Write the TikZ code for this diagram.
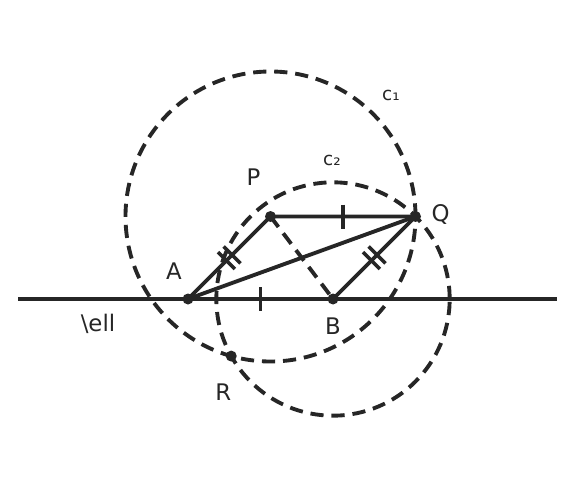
\documentclass[tikz,border=0pt]{standalone}
\usepackage{fontspec}
\setmainfont{DejaVu Sans}
\usetikzlibrary{calc}
\definecolor{ink}{HTML}{262626}
\begin{document}
\begin{tikzpicture}[
        line width=2.2pt, draw=ink, ink,
        circ/.style={dash pattern=on 7.5pt off 4.5pt},
        tick/.style={line width=2pt},
        dot/.style={fill=ink, draw=none},
        lbl/.style={font=\fontsize{13}{15}\selectfont},
        clbl/.style={font=\fontsize{10.5}{12}\selectfont}
    ]
        \useasboundingbox (0,0) rectangle (11.52,9.78);

        % points
        \coordinate (A) at (3.76,3.8);
        \coordinate (B) at ($(A)+(2.9,0)$);
        \coordinate (P) at ($(A)+(1.65,1.65)$);
        \coordinate (Q) at ($(P)+(2.9,0)$);
        \coordinate (F) at ($(P)!(Q)!(B)$);
        \coordinate (R) at ($(Q)!2!(F)$);
        \coordinate (ell1) at (0.36,3.8);
        \coordinate (ell2) at (11.14,3.8);

        % line and circles
        \draw (ell1) -- (ell2);
        \draw[circ] let \p1=($(Q)-(P)$) in (P) circle ({veclen(\x1,\y1)});
        \draw[circ] let \p1=($(Q)-(B)$) in (B) circle ({veclen(\x1,\y1)});

        % segments
        \draw (A) -- (P) -- (Q) -- (B);
        \draw (A) -- (Q);
        \draw[circ] (P) -- (B);

        % ticks
        \coordinate (mAB) at ($(A)!0.5!(B)$);
        \coordinate (mPQ) at ($(P)!0.5!(Q)$);
        \draw[tick] ($(mAB)!0.24cm!90:(B)$) -- ($(mAB)!0.24cm!-90:(B)$);
        \draw[tick] ($(mPQ)!0.24cm!90:(Q)$) -- ($(mPQ)!0.24cm!-90:(Q)$);
        \foreach \s/\e in {A/P, B/Q} {
            \coordinate (m) at ($(\s)!0.5!(\e)$);
            \coordinate (m1) at ($(m)!0.08cm!(\e)$);
            \coordinate (m2) at ($(m)!0.08cm!(\s)$);
            \draw[tick] ($(m1)!0.24cm!90:(\e)$) -- ($(m1)!0.24cm!-90:(\e)$);
            \draw[tick] ($(m2)!0.24cm!90:(\e)$) -- ($(m2)!0.24cm!-90:(\e)$);
        }

        % dots
        \foreach \p in {A,B,P,Q,R} \fill[dot] (\p) circle (0.11);

        % labels
        \node[lbl] (lA) at ($(A)+(-0.28,0.56)$) {A};
        \node[lbl] (lB) at ($(B)+(0,-0.54)$) {B};
        \node[lbl] (lP) at ($(P)+(-0.34,0.78)$) {P};
        \node[lbl] (lQ) at ($(Q)+(0.5,0.04)$) {Q};
        \node[lbl] (lR) at ($(R)+(-0.16,-0.72)$) {R};
        \node[lbl] (lell) at (1.96,3.3) {\textbackslash ell};
        \node[clbl] (lc1) at (7.82,7.88) {c₁};
        \node[clbl] (lc2) at (6.64,6.58) {c₂};
    \end{tikzpicture}
\end{document}
